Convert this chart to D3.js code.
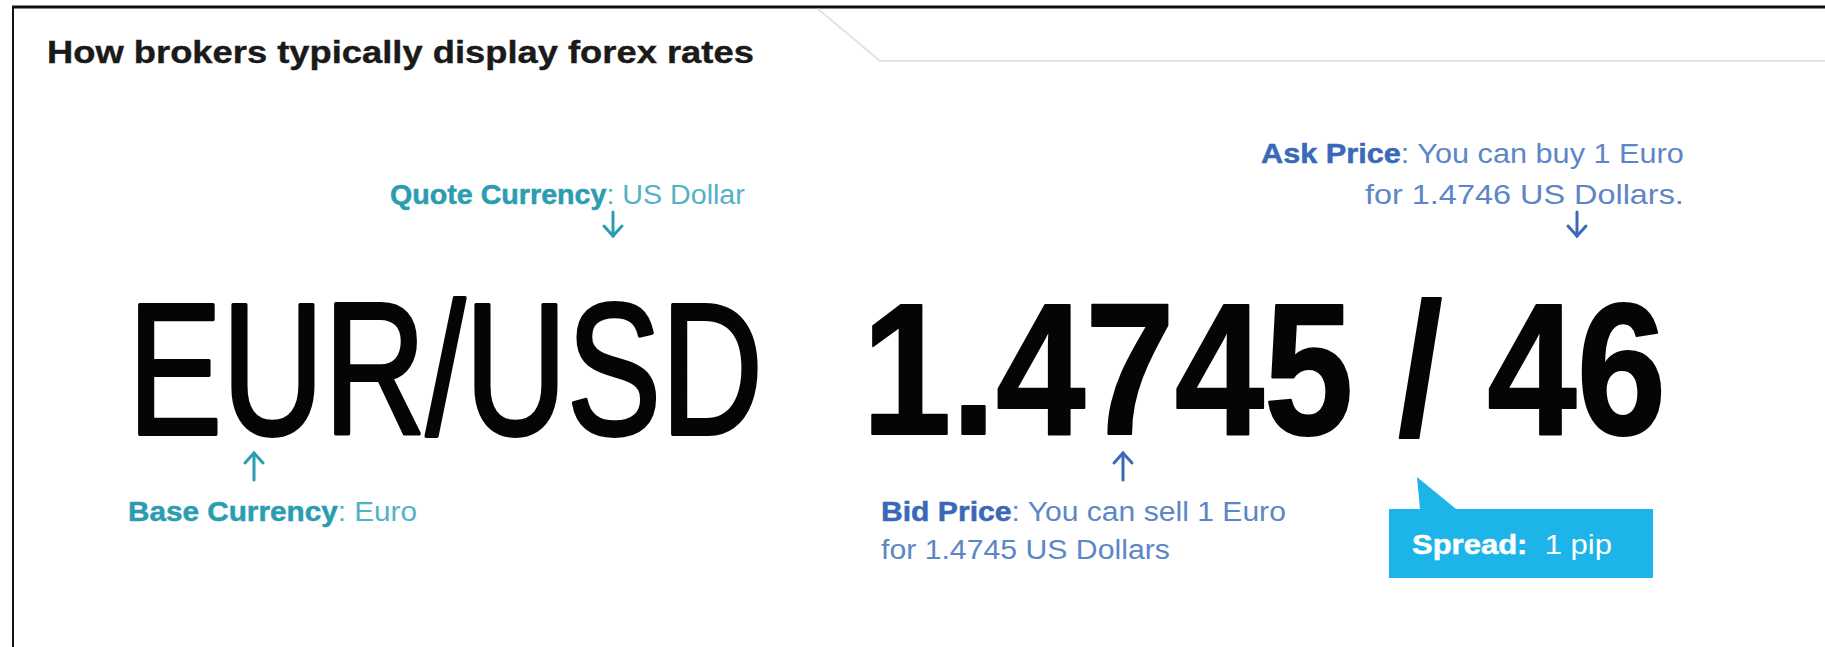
<!DOCTYPE html>
<html>
<head>
<meta charset="utf-8">
<script src="https://cdn.jsdelivr.net/npm/d3@7"></script>
<style>
  html, body { margin: 0; padding: 0; background: #ffffff; }
  svg { display: block; }
</style>
</head>
<body>
<svg id="chart" width="1825" height="647"></svg>
<script>
// ---- content ----
const titleText = "How brokers typically display forex rates";
const currencyPair = ["EUR", "USD"];
const bidPrice = "1.4745";
const askPip = "46";
const labelTitles = ["Quote Currency", "Ask Price", "Base Currency", "Bid Price"];
const labelLines = [
  ["US Dollar"],
  ["You can buy 1 Euro", "for 1.4746 US Dollars."],
  ["Euro"],
  ["You can sell 1 Euro", "for 1.4745 US Dollars"]
];
const spreadLabel = ["Spread:", "1 pip"];

// ---- colours ----
const teal = "#2b9db1", tealLight = "#52b3c4";
const blue = "#3a69b8", blueLight = "#5d86c6";
const spreadFill = "#1db4e9";

const svg = d3.select("#chart");
const W = 1825, H = 647;

// helper: place text group and squeeze horizontally to span x0..x1
function fit(g, x0, x1, y) {
  const bb = g.node().getBBox();
  const s = (x1 - x0) / bb.width;
  g.attr("transform", `translate(${x0 - bb.x * s},${y}) scale(${s},1)`);
}
const condensed = "'Liberation Sans Narrow','Arial Narrow','Liberation Sans',Arial,sans-serif";

// frame
svg.append("line").attr("x1", 12).attr("x2", W).attr("y1", 7).attr("y2", 7)
  .attr("stroke", "#111").attr("stroke-width", 3);
svg.append("line").attr("x1", 13).attr("x2", 13).attr("y1", 6).attr("y2", H)
  .attr("stroke", "#111").attr("stroke-width", 2);
// tab outline
svg.append("path").attr("d", `M818,9 L880,61 L${W},61`)
  .attr("fill", "none").attr("stroke", "#e3e3e3").attr("stroke-width", 2);

// title
{
  const g = svg.append("g");
  g.append("text").text(titleText)
    .attr("font-family", "'Liberation Sans',Arial,sans-serif")
    .attr("font-weight", "bold").attr("font-size", 32).attr("fill", "#1a1a1a")
    .attr("stroke", "#1a1a1a").attr("stroke-width", 0.4);
  fit(g, 47, 754, 63);
}

// big quote
{
  const g = svg.append("g");
  g.append("text").text(currencyPair.join("/"))
    .attr("font-family", condensed).attr("font-size", 188).attr("fill", "#050505")
    .attr("stroke", "#050505").attr("stroke-width", 4).attr("stroke-linejoin", "round");
  fit(g, 128, 763, 434);
}
{
  const g = svg.append("g");
  g.append("text").text(bidPrice + " / " + askPip)
    .attr("font-family", condensed).attr("font-weight", "bold")
    .attr("font-size", 188).attr("fill", "#050505")
    .attr("stroke", "#050505").attr("stroke-width", 2).attr("stroke-linejoin", "round");
  fit(g, 862, 1666, 434);
}

// annotation labels
function label(idx, lineIdx, x0, x1, y, bold, reg, withTitle) {
  const g = svg.append("g");
  const t = g.append("text").attr("font-family", condensed).attr("font-size", 28);
  if (withTitle) {
    t.append("tspan").text(labelTitles[idx]).attr("font-weight", "bold")
      .attr("fill", bold).attr("stroke", bold).attr("stroke-width", 0.5);
    t.append("tspan").text(": " + labelLines[idx][lineIdx]).attr("fill", reg);
  } else {
    t.append("tspan").text(labelLines[idx][lineIdx]).attr("fill", reg);
  }
  fit(g, x0, x1, y);
}
label(0, 0, 390, 745, 204, teal, tealLight, true);
label(1, 0, 1261, 1684, 163, blue, blueLight, true);
label(1, 1, 1365, 1684, 204, blue, blueLight, false);
label(2, 0, 128, 417, 521, teal, tealLight, true);
label(3, 0, 881, 1286, 521, blue, blueLight, true);
label(3, 1, 881, 1170, 559, blue, blueLight, false);

// arrows
function arrow(x, yTail, yHead, color) {
  const dir = yHead > yTail ? 1 : -1;
  const g = svg.append("g").attr("stroke", color).attr("stroke-width", 3)
    .attr("fill", "none").attr("stroke-linecap", "round");
  g.append("line").attr("x1", x).attr("x2", x).attr("y1", yTail).attr("y2", yHead);
  g.append("path").attr("d", `M${x - 9},${yHead - dir * 10} L${x},${yHead} L${x + 9},${yHead - dir * 10}`);
}
arrow(613, 212, 236, teal);
arrow(1577, 212, 236, blue);
arrow(254, 480, 453, teal);
arrow(1123, 480, 453, blue);

// spread callout
svg.append("path")
  .attr("d", "M1389,509 L1420,509 L1417,477 L1456,509 L1653,509 L1653,578 L1389,578 Z")
  .attr("fill", spreadFill);
{
  const g = svg.append("g");
  const t = g.append("text").attr("font-family", condensed).attr("font-size", 28).attr("fill", "#ffffff");
  t.append("tspan").text(spreadLabel[0]).attr("font-weight", "bold")
    .attr("stroke", "#ffffff").attr("stroke-width", 0.5);
  t.append("tspan").text("\u00a0\u00a0" + spreadLabel[1]);
  fit(g, 1412, 1612, 554);
}
</script>
</body>
</html>
